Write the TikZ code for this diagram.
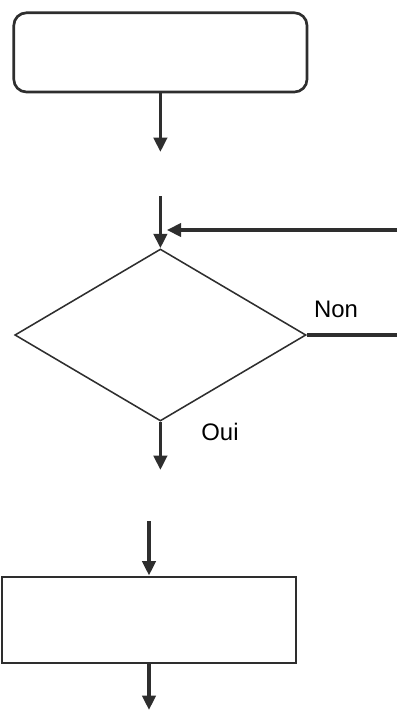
\documentclass[tikz,border=0pt]{standalone}
\usepackage{fontspec}
\setsansfont{Liberation Sans}
\usetikzlibrary{positioning, shapes.geometric, arrows.meta}
\definecolor{ink}{HTML}{2e2e2e}

\begin{document}
\begin{tikzpicture}[
  font=\sffamily,
  startbox/.style={draw=ink, line width=1.9pt, rounded corners=9pt,
              minimum width=7.33cm, minimum height=1.98cm, inner sep=0pt},
  test/.style={draw=ink, line width=1.1pt, diamond, aspect=1.69,
              minimum width=7.28cm, minimum height=4.3cm, inner sep=0pt},
  action/.style={draw=ink, line width=2.1pt,
              minimum width=7.35cm, minimum height=2.15cm, inner sep=0pt},
  arr/.style={-{Triangle[length=3.6mm, width=3.3mm]}, line width=2.6pt, ink},
  lbl/.style={font=\fontsize{17}{20}\selectfont\sffamily, text=black, inner sep=0pt}
]
  \useasboundingbox (0,0) rectangle (9.925,-17.75);

  % Boxes
  \node[startbox] (debut) at (4.01,-1.31) {};
  \node[test] (cond) at (4.01,-8.375) {};
  \node[action] (bloc) at (3.725,-15.5) {};

  % Free ends
  \coordinate (s1) at (4.01,-3.8);
  \coordinate (e2) at (4.01,-4.9);
  \coordinate (back) at (9.925,-5.75);
  \coordinate (merge) at (4.01,-5.75);
  \coordinate (nonout) at (9.925,-8.375);
  \coordinate (s3) at (4.01,-11.75);
  \coordinate (e4) at (3.725,-13.025);
  \coordinate (s5) at (3.725,-17.75);

  % Arrows
  \draw[arr] (debut.south) -- (s1);
  \draw[arr] (e2) -- (cond.north);
  \draw[arr, shorten >=1.6mm] (back) -- (merge);
  \draw[ink, line width=2.6pt] (cond.east) -- (nonout);
  \draw[arr] (cond.south) -- (s3);
  \draw[arr] (e4) -- (bloc.north);
  \draw[arr] (bloc.south) -- (s5);

  % Labels
  \node[lbl] (non) at (8.4,-7.73) {Non};
  \node[lbl] (oui) at (5.5,-10.8) {Oui};
\end{tikzpicture}
\end{document}
